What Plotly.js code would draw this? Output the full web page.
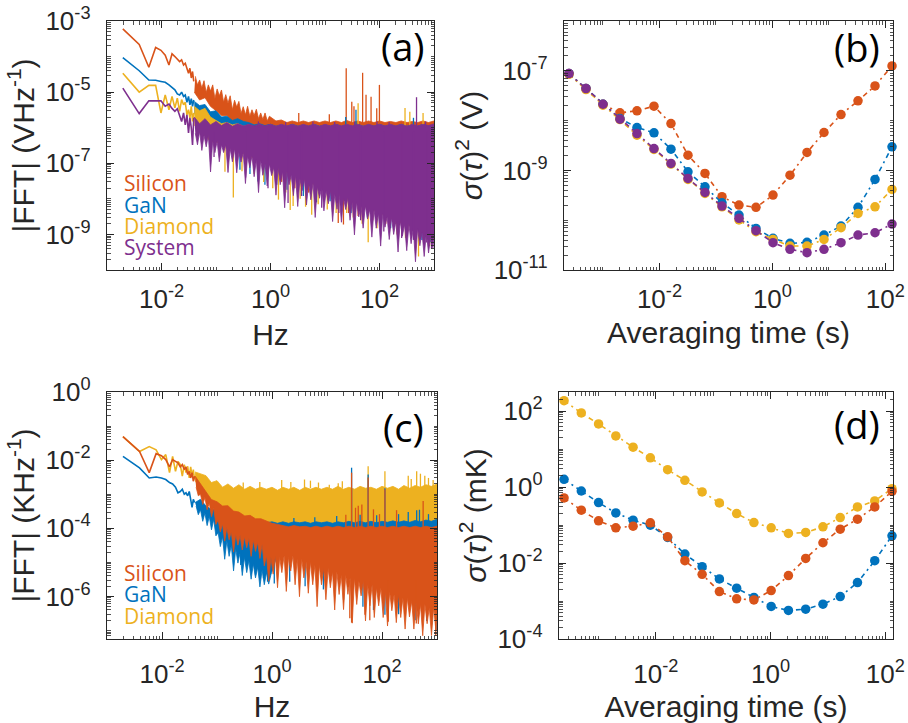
<!DOCTYPE html>
<html><head><meta charset="utf-8">
<script src="https://cdn.plot.ly/plotly-3.0.1.min.js"></script>
<style>html,body{margin:0;padding:0;background:#fff}#chart{width:908px;height:723px}</style>
</head><body><div id="chart"></div>
<script>
// ---------- frequency grids (Hz) ----------
const lowF = [0.00195,0.0039,0.00586,0.00781,0.00977,0.0117,0.0137,0.0156,0.0176,0.0195,0.0215,0.0234,0.0254,0.0273,0.0293,0.0313,0.0332,0.0352,0.0371,0.0391];
const bandF = [0.04,0.05,0.063,0.079,0.1,0.126,0.158,0.2,0.25,0.32,0.4,0.5,0.63,0.79,1,1.26,1.58,2,2.5,3.2,4,5,6.3,7.9,10,12.6,15.8,20,25,32,40,50,63,79,100,126,158,200,250,320,400,500,630,790,1000];
const fineF = [0.0417,0.0457,0.0501,0.0550,0.0603,0.0661,0.0724,0.0794,0.0871,0.0955,
  0.105,0.115,0.126,0.138,0.151,0.166,0.182,0.200,0.219,0.240,
  0.263,0.288,0.316,0.347,0.380,0.417,0.457,0.501,0.550,0.603,
  0.661,0.724,0.794,0.871,0.955,1.05,1.15,1.26,1.38,1.51,
  1.66,1.82,2.00,2.19,2.40,2.63,2.88,3.16,3.47,3.80,
  4.17,4.57,5.01,5.50,6.03,6.61,7.24,7.94,8.71,9.55,
  10.5,11.5,12.6,13.8,15.1,16.6,18.2,20.0,21.9,24.0,
  26.3,28.8,31.6,34.7,38.0,41.7,45.7,50.1,55.0,60.3,
  66.1,72.4,79.4,87.1,95.5,105,115,126,138,151,
  166,182,200,219,240,263,288,316,347,380,
  417,457,501,550,603,661,724,794,871,955,1000];

// ---------- panel (a): |FFT| (V/Hz) ----------
const siA_line = [6.0e-4,2.2e-4,5.0e-5,1.8e-4,1.5e-4,1.1e-4,5.8e-5,1.2e-4,1.0e-4,8.6e-5,7.2e-5,8.1e-5,5.8e-5,6.5e-5,4.5e-5,3.4e-5,4.7e-5,2.5e-5,3.8e-5,2.0e-5];
const gaA_line = [9.3e-5,4.0e-5,2.2e-5,2.15e-5,2.0e-5,1.9e-5,1.6e-5,1.35e-5,1.16e-5,8.9e-6,8.3e-6,1.0e-5,7.6e-6,8.3e-6,5.2e-6,7.6e-6,4.4e-6,6.6e-6,4.0e-6,6.0e-6];
const diA_line = [3.4e-5,1.0e-5,1.55e-5,1.55e-5,2.6e-6,8.4e-6,3.2e-6,7.6e-6,3.6e-6,6.8e-6,2.9e-6,6.2e-6,4.4e-6,5.2e-6,2.3e-6,3.2e-6,1.9e-6,4.0e-6,1.5e-6,2.6e-6];
const syA_line = [1.3e-5,2.5e-6,5.7e-6,5.8e-6,5.7e-6,4.0e-6,4.6e-6,3.5e-6,2.9e-6,3.4e-6,2.3e-6,1.5e-6,2.6e-6,1.2e-6,2.3e-6,7.1e-7,1.9e-6,1.0e-6,3.3e-7,1.9e-6];

const siA_hiFine = [2.8e-5,1.6e-5,2.2e-5,1.3e-5,2.1e-5,9.8e-6,1.6e-5,1.07e-5,1.6e-5,6.6e-6,
  1.23e-5,7.9e-6,1.15e-5,5.2e-6,8.5e-6,4.9e-6,7.9e-6,3.2e-6,5.9e-6,3.8e-6,
  5.5e-6,2.5e-6,3.9e-6,2.3e-6,4.0e-6,2.1e-6,3.2e-6,2.2e-6,3.3e-6,1.8e-6,
  2.6e-6,1.7e-6,2.6e-6,1.55e-6,2.1e-6];
const siA_hiTail = [1.55e-6,1.65e-6,1.4e-6,1.55e-6,1.4e-6,1.55e-6,1.4e-6,1.55e-6,1.4e-6,1.55e-6,
  1.4e-6,1.55e-6,1.4e-6,1.6e-6,1.4e-6,1.55e-6,1.4e-6,1.55e-6,1.4e-6,1.55e-6,
  1.4e-6,1.5e-6,1.4e-6,1.55e-6,1.4e-6,1.5e-6,1.4e-6,1.55e-6,1.4e-6,1.55e-6];
const siA_lo = [1e-5,6e-6,7e-6,4e-6,3e-6,2.2e-6,2.2e-6,1.5e-6,1.5e-6,2.1e-7,1.8e-7,1.5e-7,1.3e-7,1.13e-7,9.5e-8,8.3e-8,7.1e-8,6.1e-8,5.2e-8,4.5e-8,3.8e-8,3.2e-8,2.8e-8,2.4e-8,2.1e-8,1.7e-8,1.5e-8,1.27e-8,1.1e-8,9.5e-9,8.2e-9,6.9e-9,6e-9,5.2e-9,4.4e-9,3.8e-9,3.2e-9,2.8e-9,2.3e-9,2.1e-9,1.7e-9,1.5e-9,1.27e-9,1.1e-9,9.2e-10];
const gaA_hi = [5.5e-6,4.2e-6,4.5e-6,2.8e-6,3.0e-6,2.0e-6,2.1e-6,1.6e-6,1.8e-6,1.5e-6,1.4e-6,1.2e-6,1.3e-6,1.15e-6,1.25e-6,1.1e-6,1.2e-6,1.1e-6,1.25e-6,1.1e-6,1.2e-6,1.1e-6,1.25e-6,1.1e-6,1.2e-6,1.1e-6,1.25e-6,1.1e-6,1.2e-6,1.1e-6,1.25e-6,1.1e-6,1.2e-6,1.1e-6,1.25e-6,1.1e-6,1.2e-6,1.1e-6,1.25e-6,1.1e-6,1.2e-6,1.1e-6,1.25e-6,1.1e-6,1.2e-6];
const gaA_lo = [2.5e-6,1.8e-6,1.5e-6,1e-6,8e-7,3.7e-7,3.2e-7,2.75e-7,2.3e-7,2.0e-7,1.7e-7,1.43e-7,1.27e-7,1.08e-7,9.1e-8,7.9e-8,6.8e-8,5.8e-8,5.0e-8,4.3e-8,3.6e-8,3.1e-8,2.6e-8,2.3e-8,2.0e-8,1.65e-8,1.43e-8,1.2e-8,1.05e-8,9.1e-9,7.8e-9,6.6e-9,5.7e-9,5.0e-9,4.2e-9,3.6e-9,3.1e-9,2.6e-9,2.2e-9,2.0e-9,1.65e-9,1.43e-9,1.2e-9,1.05e-9,8.8e-10];
const diA_hi = [4e-6,3e-6,3.5e-6,2e-6,1.6e-6,1.3e-6,1.4e-6,1.2e-6,1.3e-6,1.1e-6,1.2e-6,1.05e-6,1.2e-6,1.05e-6,1.2e-6,1.05e-6,1.2e-6,1.05e-6,1.2e-6,1.05e-6,1.2e-6,1.05e-6,1.2e-6,1.05e-6,1.2e-6,1.05e-6,1.2e-6,1.05e-6,1.2e-6,1.05e-6,1.2e-6,1.05e-6,1.2e-6,1.05e-6,1.2e-6,1.05e-6,1.2e-6,1.05e-6,1.2e-6,1.05e-6,1.2e-6,1.05e-6,1.2e-6,1.05e-6,1.2e-6];
const diA_lo = [1.2e-6,8e-7,6e-7,4e-7,3.9e-7,3.6e-7,3.0e-7,2.6e-7,2.2e-7,1.9e-7,1.6e-7,1.37e-7,1.2e-7,1.03e-7,8.7e-8,7.6e-8,6.5e-8,5.6e-8,4.7e-8,4.1e-8,3.5e-8,2.9e-8,2.5e-8,2.2e-8,1.9e-8,1.6e-8,1.37e-8,1.15e-8,1.0e-8,8.7e-9,7.5e-9,6.3e-9,5.5e-9,4.7e-9,4.0e-9,3.5e-9,2.9e-9,2.5e-9,2.1e-9,1.9e-9,1.6e-9,1.37e-9,1.15e-9,1.0e-9,8.4e-10];
const syA_hi = [2.0e-6,1.3e-6,1.8e-6,1.2e-6,1.5e-6,1.15e-6,1.4e-6,1.1e-6,1.3e-6,1.12e-6,1.25e-6,1.12e-6,1.25e-6,1.12e-6,1.25e-6,1.1e-6,1.25e-6,1.12e-6,1.25e-6,1.1e-6,1.25e-6,1.12e-6,1.25e-6,1.1e-6,1.25e-6,1.12e-6,1.25e-6,1.12e-6,1.25e-6,1.12e-6,1.25e-6,1.1e-6,1.25e-6,1.12e-6,1.25e-6,1.12e-6,1.25e-6,1.12e-6,1.25e-6,1.1e-6,1.25e-6,1.12e-6,1.25e-6,1.15e-6,1.28e-6];
const syA_loFine = [7.0e-7,3.3e-7,7.8e-7,2.3e-7,6.1e-7,2.9e-7,6.1e-7,5.7e-8,4.3e-7,2.0e-7,
  4.2e-7,1.1e-7,3.3e-7,2.0e-7,3.3e-7,5.5e-8,2.6e-7,1.1e-7,2.6e-7,5.4e-8,
  2.0e-7,1.08e-7,2.0e-7,2.7e-8,1.6e-7,7.5e-8,1.6e-7,4.2e-8,1.25e-7,1.5e-8,
  1.24e-7,4.6e-8,9.7e-8,2.3e-8,9.6e-8,4.5e-8,7.6e-8,1.27e-8,7.5e-8,2.5e-8,
  5.9e-8,5.6e-9,5.9e-8,2.5e-8,4.6e-8,1.23e-8,4.6e-8,6.1e-9,3.6e-8,1.7e-8,
  3.6e-8,6.7e-9,2.8e-8,9.4e-9,2.8e-8,3.0e-9,2.2e-8,1.04e-8,2.2e-8,4.6e-9,
  1.7e-8,7.3e-9,1.7e-8,2.3e-9,1.35e-8,5.1e-9,1.34e-8,2.2e-9,1.05e-8,5.0e-9,
  1.05e-8,2.5e-9,8.2e-9,9.7e-10,8.2e-9,3.1e-9,6.4e-9,1.5e-9,6.4e-9,2.7e-9,
  5.0e-9,8.4e-10,5.0e-9,1.5e-9,3.9e-9,4.7e-10,3.9e-9,1.6e-9,3.1e-9,7.2e-10,
  3.0e-9,1.0e-9,2.4e-9,3.2e-10,2.4e-9,8.9e-10,1.9e-9,3.5e-10,1.9e-9,5.5e-10,
  1.5e-9,1.7e-10,1.45e-9,4.8e-10,1.14e-9,2.4e-10,1.14e-9,3.0e-10,8.9e-10,4.2e-10,8.1e-10];

const siA_upF = [3.3,12,24.5,31,34,49,56.6,70,89,99.6];
const siA_upV = [2.6e-6,2.4e-6,4.7e-5,5.4e-6,4e-6,3.5e-5,8.5e-6,7.4e-6,3.5e-6,1.6e-5];
const siA_dnF = [1.6,2.8,5,9.3,14,17.5,21.8,27,40.5,75,130,200,330,550,770];
const siA_dnV = [3e-8,2e-8,1.5e-8,2.8e-8,5e-9,2.1e-9,1.9e-9,4e-9,3.3e-9,2.5e-9,2e-9,2e-9,1.2e-9,1.1e-9,7.2e-10];
const gaA_upF = [24,37,420];
const gaA_upV = [2e-6,3.2e-6,1.9e-6];
const gaA_dnF = [0.275,0.42,0.59,0.79,1.3,2.0,4,7,12.4,30,60,160,447,600,850];
const gaA_dnV = [6.6e-8,5e-8,3.1e-8,2.5e-8,2.5e-8,1.8e-8,1.2e-8,8e-9,8.6e-9,4e-9,3e-9,1.5e-9,1.1e-9,7e-10,6e-10];
const diA_upF = [40.5,294,360,630];
const diA_upV = [4.9e-6,3.6e-6,2.8e-6,2.6e-6];
const diA_dnF = [0.146,0.208,0.3,0.5,0.75,1.1,1.4,1.9,2.3,2.6,3.5,4.4,5.7,7.5,11,16,25,33,48,62,90,156,210,300,380,520,660,830];
const diA_dnV = [5.8e-8,1.1e-8,6e-8,5e-8,3e-8,2e-8,9.5e-9,1.5e-8,4.9e-9,6.3e-9,1e-8,6e-9,3.6e-9,7e-9,5e-9,4e-9,4e-9,3e-9,2e-9,6e-10,1.5e-9,2.1e-9,1e-9,8e-10,1.2e-9,2.4e-10,6e-10,4.7e-10];
const syA_upF = [0.6,1.9,6,15,35,90,150,478,700];
const syA_upV = [1.5e-6,1.45e-6,1.5e-6,1.45e-6,1.5e-6,1.5e-6,1.45e-6,7.2e-6,1.5e-6];
const syA_dnF = [0.092,0.35,0.9,2.1,3.7,8.7,18,45,120,255,420,735,900];
const syA_dnV = [1.5e-7,4e-8,2e-8,7.7e-9,1.2e-8,5.6e-9,4e-9,2.5e-9,1.2e-9,8e-10,7e-10,5.9e-10,4e-10];

// ---------- panel (c): |FFT| (K/Hz) ----------
const siC_line = [0.049,0.018,0.0043,0.0155,0.0135,0.0104,0.0063,0.0103,0.0092,0.0083,0.0063,0.0074,0.0053,0.0063,0.0038,0.0047,0.003,0.0043,0.0024,0.0034];
const gaC_line = [0.0129,0.0059,0.003,0.0032,0.003,0.0027,0.0022,0.002,0.0016,0.0011,0.0012,0.0014,0.001,0.0011,9e-4,0.0012,7.1e-4,4.1e-4,7.1e-4,5.7e-4];
const diC_line = [0.049,0.018,0.025,0.020,0.0104,0.0145,0.0043,0.0129,0.0047,0.0092,0.0074,0.0034,0.0074,0.0043,0.0066,0.003,0.0063,0.0034,0.0053,0.0027];

const diC_hi = [0.0045,0.004,0.0035,0.0022,0.0025,0.0016,0.002,0.0015,0.0019,0.0014,0.0017,0.0014,0.0016,0.0014,0.0016,0.0013,0.0016,0.0014,0.0016,0.0013,0.0016,0.0014,0.0016,0.0014,0.0016,0.0014,0.0017,0.0014,0.0016,0.0014,0.0017,0.0015,0.0016,0.0014,0.0017,0.0015,0.0017,0.0014,0.0018,0.0015,0.0018,0.0016,0.0019,0.0017,0.002];
const diC_lo = [0.0025,0.0015,8e-4,5e-4,4e-4,3e-4,2.5e-4,2e-4,2e-4,1.8e-4,1.5e-4,1e-4,9e-5,1e-4,9e-5,1e-4,9e-5,1e-4,9e-5,1e-4,9e-5,1e-4,9e-5,1e-4,9e-5,1e-4,9e-5,1e-4,9e-5,1e-4,9e-5,1e-4,9e-5,1e-4,9e-5,1e-4,9e-5,1e-4,9e-5,1e-4,9e-5,1e-4,9e-5,1e-4,9e-5];
const gaC_hi = [5.7e-4,7.1e-4,4.5e-4,3.6e-4,3.6e-4,2.6e-4,2.3e-4,2.3e-4,2.0e-4,1.9e-4,1.7e-4,1.5e-4,1.6e-4,1.45e-4,1.55e-4,1.4e-4,1.55e-4,1.4e-4,1.55e-4,1.45e-4,1.55e-4,1.4e-4,1.55e-4,1.45e-4,1.55e-4,1.4e-4,1.55e-4,1.45e-4,1.6e-4,1.45e-4,1.6e-4,1.45e-4,1.6e-4,1.45e-4,1.6e-4,1.5e-4,1.65e-4,1.5e-4,1.65e-4,1.5e-4,1.7e-4,1.55e-4,1.75e-4,1.6e-4,1.85e-4];
const gaC_loFine = [4.5e-4,2.5e-4,3.5e-4,1.6e-4,2.8e-4,1.2e-4,2.2e-4,9e-5,1.8e-4,6e-5,
  7.4e-5,2.9e-5,5.6e-5,1.23e-5,4.3e-5,1.5e-5,3.2e-5,5.6e-6,2.5e-5,9.5e-6,
  1.9e-5,4.1e-6,1.4e-5,5.0e-6,1.12e-5,3.2e-6,8.9e-6,3.5e-6,7.2e-6,1.9e-6,
  6.0e-6,2.2e-6,5.0e-6,2.3e-6,4.3e-6];
const gaC_loTail = [1.7e-5,1.7e-5,1.7e-5,1.7e-5,1.48e-5,1.29e-5,1.12e-5,9.8e-6,8.5e-6,7.4e-6,
  6.5e-6,5.6e-6,4.9e-6,4.3e-6,3.7e-6,3.2e-6,2.8e-6,2.45e-6,2.1e-6,1.86e-6,
  1.6e-6,1.4e-6,1.2e-6,1.07e-6,9.3e-7,8.1e-7,7e-7,6.1e-7,5.3e-7,4.6e-7];
const siC_hi = [0.0034,0.002,0.0012,7e-4,6e-4,4.5e-4,4.6e-4,3.2e-4,3e-4,2.3e-4,2.4e-4,1.9e-4,1.9e-4,1.6e-4,1.4e-4,1.3e-4,1.2e-4,1.1e-4,1.2e-4,1.1e-4,1.15e-4,1.05e-4,1.15e-4,1.05e-4,1.15e-4,1.05e-4,1.15e-4,1.05e-4,1.15e-4,1.05e-4,1.15e-4,1.05e-4,1.15e-4,1.05e-4,1.15e-4,1.05e-4,1.15e-4,1.05e-4,1.15e-4,1.05e-4,1.15e-4,1.05e-4,1.15e-4,1.05e-4,1.15e-4];
const siC_loFine = [1.6e-3,9e-4,1.0e-3,5e-4,8e-4,3.5e-4,5.5e-4,2.2e-4,4e-4,1.3e-4,
  1.74e-4,7.8e-5,1.35e-4,4.2e-5,1.05e-4,4.6e-5,7.9e-5,2.0e-5,6.8e-5,3.2e-5,
  6.2e-5,2.3e-5,5.6e-5,2.7e-5,5.1e-5,1.5e-5,4.5e-5,2.1e-5,3.9e-5,1.3e-5,
  3.4e-5,7.9e-6,1.6e-5,2.8e-6,1.4e-5,4.5e-6,1.6e-5,1.8e-6,1.4e-5,5.0e-6,
  1.6e-5,1.4e-6,1.4e-5,5.6e-6,1.6e-5,2.2e-6,1.3e-5,9.8e-7,1.3e-5,3.5e-6,
  1.04e-5,1.24e-6,1.05e-5,2.2e-6,8.4e-6,5.0e-7,8.4e-6,2.2e-6,6.7e-6,8.0e-7,
  6.7e-6,1.8e-6,5.4e-6,4.0e-7,5.4e-6,1.14e-6,4.3e-6,4.1e-7,4.3e-6,1.15e-6,
  3.5e-6,1.64e-7,3.5e-6,5.8e-7,2.8e-6,1.04e-6,2.8e-6,1.9e-7,2.2e-6,5.3e-7,
  2.2e-6,2.4e-7,1.8e-6,5.3e-7,1.8e-6,2.4e-7,1.4e-6,1.35e-7,1.4e-6,3.8e-7,
  1.14e-6,1.7e-7,1.15e-6,2.4e-7,9.2e-7,1.1e-7,9.2e-7,2.5e-7,7.3e-7,1.1e-7,
  7.4e-7,1.56e-7,5.9e-7,7.0e-8,5.9e-7,1.58e-7,4.7e-7,7.1e-8,4.7e-7,1.0e-7,3.9e-7];

const diC_upF = [0.3,0.6,1.5,2.2,3.9,5,7,11,16,19,56,113,300,340,427,500,600,700,850];
const diC_upV = [2.2e-3,2.3e-3,2.6e-3,2.3e-3,2.7e-3,2.5e-3,2.2e-3,1.9e-3,2.1e-3,2.4e-3,6.6e-3,4.7e-3,3.5e-3,2.8e-3,4.7e-3,4e-3,3.5e-3,3e-3,2.6e-3];
const diC_dnF = [0.23];
const diC_dnV = [2e-5];
const gaC_upF = [2.5,6,15,28,40,56,80,113,200,300,427,480,700];
const gaC_upV = [2e-4,2.1e-4,2.3e-4,6e-3,2.5e-4,3.8e-3,2.4e-4,1.5e-3,2.6e-4,3e-4,3.4e-4,3.5e-4,2.6e-4];
const gaC_dnF = [0.25,0.27,0.5,0.7,0.83,1.1,2.1,4,8.6,20,45,70,113,200,400,650,800,1000];
const gaC_dnV = [1.8e-5,8.4e-6,4.2e-6,3.4e-6,2.7e-6,2.4e-6,2.7e-6,2e-6,1.6e-6,8e-7,5e-7,4e-7,2.9e-7,3e-7,2e-7,1.9e-7,1.5e-7,1e-7];
const siC_upF = [22,28,33,37,43,56,70,90,113,184,560];
const siC_upV = [2.5e-4,4.3e-3,4e-4,4.6e-4,5e-4,3.1e-3,3.6e-4,2.6e-4,1.4e-3,3.4e-4,6.3e-4];
const siC_dnF = [26,28,49,60,130,420,950];
const siC_dnV = [2.3e-7,1.7e-7,2.9e-7,2e-7,1.8e-7,1.6e-7,7e-8];

// ---------- panels (b) and (d): Allan variance ----------
const tau = [0.00025,0.0005,0.001,0.002,0.004,0.008,0.016,0.032,0.064,0.128,0.256,0.512,1.024,2.048,4.096,8.192,16.384,32.768,65.536,131.072];
const siB = [8.8e-8,4.4e-8,2.13e-8,1.43e-8,1.57e-8,1.95e-8,8.7e-9,2.02e-9,8.7e-10,2.96e-10,2.01e-10,1.81e-10,3.19e-10,8.0e-10,2.29e-9,5.77e-9,1.32e-8,2.49e-8,4.98e-8,1.25e-7];
const gaB = [8.8e-8,4.4e-8,2.13e-8,1.1e-8,7.26e-9,5.68e-9,2.67e-9,9.37e-10,4.69e-10,2.24e-10,1.27e-10,6.85e-11,4.32e-11,3.43e-11,3.59e-11,5.04e-11,7.62e-11,1.81e-10,6.58e-10,2.97e-9];
const diB = [8.5e-8,4.2e-8,2.04e-8,1.05e-8,5.1e-9,2.63e-9,1.34e-9,6.58e-10,3.44e-10,1.86e-10,1.01e-10,5.87e-11,4.12e-11,3.03e-11,3.03e-11,4.12e-11,7.06e-11,1.37e-10,1.86e-10,4.15e-10];
const syB = [8.8e-8,4.4e-8,2.13e-8,1.07e-8,5.5e-9,2.75e-9,1.38e-9,6.89e-10,3.6e-10,1.92e-10,1.09e-10,6.15e-11,3.53e-11,2.6e-11,2.23e-11,2.6e-11,3.53e-11,5.04e-11,5.6e-11,8.36e-11];
const diD = [186.6,88.7,45.6,22.1,11.2,5.87,2.85,1.50,0.740,0.381,0.200,0.116,0.0843,0.0599,0.0636,0.0895,0.157,0.299,0.430,0.904];
const gaD = [1.59,0.785,0.389,0.208,0.134,0.099,0.047,0.0172,0.00802,0.00381,0.00217,0.00124,0.000718,0.000564,0.000611,0.000826,0.00131,0.00305,0.0115,0.0520];
const siD = [0.515,0.245,0.129,0.0843,0.0932,0.114,0.049,0.0115,0.00505,0.00177,0.00114,0.00107,0.00188,0.00466,0.0132,0.0341,0.0778,0.142,0.299,0.769];

// ---------- labels ----------
const seriesA = ['Silicon','GaN','Diamond','System'];
const seriesC = ['Silicon','GaN','Diamond'];
const panelTags = ['(a)','(b)','(c)','(d)'];
const tickA_Y = [1e-9,1e-7,1e-5,1e-3];
const tickA_Yt = ['10<sup>-9</sup>','10<sup>-7</sup>','10<sup>-5</sup>','10<sup>-3</sup>'];
const tickX = [1e-2,1,100];
const tickXt = ['10<sup>-2</sup>','10<sup>0</sup>','10<sup>2</sup>'];
const tickB_Y = [1e-11,1e-9,1e-7];
const tickB_Yt = ['10<sup>-11</sup>','10<sup>-9</sup>','10<sup>-7</sup>'];
const tickC_Y = [1e-6,1e-4,1e-2,1];
const tickC_Yt = ['10<sup>-6</sup>','10<sup>-4</sup>','10<sup>-2</sup>','10<sup>0</sup>'];
const tickD_Y = [1e-4,1e-2,1,100];
const tickD_Yt = ['10<sup>-4</sup>','10<sup>-2</sup>','10<sup>0</sup>','10<sup>2</sup>'];

// ---------- styling / builders ----------
const COL = {si:'#D95319', ga:'#0072BD', di:'#EDB120', sy:'#7E2F8E'};
const INK = '#262626';
const FONT = 'Liberation Sans, Arial, Helvetica, sans-serif';
const LFONT = 'Open Sans, Noto Sans, sans-serif';

function band(hiF, hi, loF, lo, color, xa, ya) {
  return {x: hiF.concat(loF.slice().reverse()), y: hi.concat(lo.slice().reverse()),
    type:'scatter', mode:'lines', fill:'toself', fillcolor:color,
    line:{color:color, width:0.8}, xaxis:xa, yaxis:ya, hoverinfo:'skip'};
}
function line(f, v, color, xa, ya) {
  return {x:f, y:v, type:'scatter', mode:'lines', line:{color:color, width:1.6}, xaxis:xa, yaxis:ya, hoverinfo:'skip'};
}
function spikes(f, v, base, color, xa, ya) {
  const x = [], y = [];
  f.forEach((fi, i) => { x.push(fi, fi, null); y.push(base, v[i], null); });
  return {x:x, y:y, type:'scatter', mode:'lines', line:{color:color, width:1.3}, xaxis:xa, yaxis:ya, hoverinfo:'skip'};
}
function fft(lineV, bandT, upF, upV, dnF, dnV, upBase, dnBase, color, xa, ya) {
  return [bandT, line(lowF, lineV, color, xa, ya),
          spikes(upF, upV, upBase, color, xa, ya), spikes(dnF, dnV, dnBase, color, xa, ya)];
}
function allan(t, v, color, xa, ya) {
  return {x:t, y:v, type:'scatter', mode:'lines+markers', xaxis:xa, yaxis:ya, hoverinfo:'skip',
    line:{color:color, width:1.6, dash:'5px,4px,2px,4px'}, marker:{color:color, size:9.5}, cliponaxis:false};
}
const fineHead = fineF.slice(0, 35), bandTail = bandF.slice(15);

const traces = [].concat(
  fft(siA_line, band(fineHead.concat(bandTail), siA_hiFine.concat(siA_hiTail), bandF, siA_lo, COL.si, 'x', 'y'),
      siA_upF, siA_upV, siA_dnF, siA_dnV, 1e-6, 8e-7, COL.si, 'x', 'y'),
  fft(gaA_line, band(bandF, gaA_hi, bandF, gaA_lo, COL.ga, 'x', 'y'),
      gaA_upF, gaA_upV, gaA_dnF, gaA_dnV, 1e-6, 8e-7, COL.ga, 'x', 'y'),
  fft(diA_line, band(bandF, diA_hi, bandF, diA_lo, COL.di, 'x', 'y'),
      diA_upF, diA_upV, diA_dnF, diA_dnV, 1e-6, 8e-7, COL.di, 'x', 'y'),
  fft(syA_line, band(bandF, syA_hi, fineF, syA_loFine, COL.sy, 'x', 'y'),
      syA_upF, syA_upV, syA_dnF, syA_dnV, 1e-6, 8e-7, COL.sy, 'x', 'y'),
  [allan(tau, siB, COL.si, 'x2', 'y2'), allan(tau, gaB, COL.ga, 'x2', 'y2'),
   allan(tau, diB, COL.di, 'x2', 'y2'), allan(tau, syB, COL.sy, 'x2', 'y2')],
  fft(diC_line, band(bandF, diC_hi, bandF, diC_lo, COL.di, 'x3', 'y3'),
      diC_upF, diC_upV, diC_dnF, diC_dnV, 1.5e-3, 1.2e-4, COL.di, 'x3', 'y3'),
  fft(gaC_line, band(bandF, gaC_hi, fineHead.concat(bandTail), gaC_loFine.concat(gaC_loTail), COL.ga, 'x3', 'y3'),
      gaC_upF, gaC_upV, gaC_dnF, gaC_dnV, 1.2e-4, 3e-5, COL.ga, 'x3', 'y3'),
  fft(siC_line, band(bandF, siC_hi, fineF, siC_loFine, COL.si, 'x3', 'y3'),
      siC_upF, siC_upV, siC_dnF, siC_dnV, 1e-4, 3e-6, COL.si, 'x3', 'y3'),
  [allan(tau, diD, COL.di, 'x4', 'y4'), allan(tau, gaD, COL.ga, 'x4', 'y4'), allan(tau, siD, COL.si, 'x4', 'y4')]
);

function minorVals(r, majors) {
  const out = [];
  for (let d = Math.floor(r[0]); d <= Math.ceil(r[1]); d++) {
    for (let m = 1; m <= 9; m++) {
      const v = m * Math.pow(10, d), lv = Math.log10(v);
      if (lv < r[0] || lv > r[1]) continue;
      if (m === 1 && majors.some(t => Math.abs(Math.log10(t) - d) < 1e-6)) continue;
      out.push(v);
    }
  }
  return out;
}
const W = 908, H = 723;
function ax(range, domain, anchor, tv, tt, title, standoff, lblOff) {
  return {type:'log', range:range, domain:domain, anchor:anchor,
    showline:true, linecolor:INK, linewidth:1.3, mirror:'allticks',
    ticks:'inside', ticklen:7, tickwidth:1, tickcolor:INK,
    tickmode:'array', tickvals:tv, ticktext:tt,
    minor:{ticks:'inside', ticklen:3.5, tickwidth:0.8, tickcolor:INK, tickmode:'array', tickvals:minorVals(range, tv), showgrid:false},
    showgrid:false, zeroline:false, automargin:false, fixedrange:true,
    ticklabelstandoff:lblOff,
    tickfont:{family:FONT, size:26, color:INK},
    title:{text:title, standoff:standoff, font:{family:FONT, size:30, color:INK}}};
}
const yA = [1 - 270/H, 1 - 21/H], yC = [1 - 639/H, 1 - 392/H];
const layout = {
  width:W, height:H, margin:{l:0, r:0, t:0, b:0},
  paper_bgcolor:'#fff', plot_bgcolor:'#fff', showlegend:false, hovermode:false,
  xaxis:  ax([-3, 3], [107/W, 434/W], 'y', tickX, tickXt, 'Hz', 11, 5),
  yaxis:  ax([-10, -3], yA, 'x', tickA_Y, tickA_Yt, '|FFT| (VHz<sup>-1</sup>)', 2, 10),
  xaxis2: ax([-3.69, 2.135], [564/W, 893/W], 'y2', tickX, tickXt, 'Averaging time (s)', 9, 5),
  yaxis2: ax([-11, -6], yA, 'x2', tickB_Y, tickB_Yt, '<i>σ</i>(<i>τ</i>)<sup>2</sup> (V)', 2, 10),
  xaxis3: ax([-3, 3], [107/W, 437/W], 'y3', tickX, tickXt, 'Hz', 10, 11),
  yaxis3: ax([-7.25, 0], yC, 'x3', tickC_Y, tickC_Yt, '|FFT| (KHz<sup>-1</sup>)', 2, 10),
  xaxis4: ax([-3.69, 2.135], [559/W, 893/W], 'y4', tickX, tickXt, 'Averaging time (s)', 10, 11),
  yaxis4: ax([-4, 2.5], yC, 'x4', tickD_Y, tickD_Yt, '<i>σ</i>(<i>τ</i>)<sup>2</sup> (mK)', 2, 10),
  annotations: []
};
const tagPos = [[403, 46], [857, 47], [403, 427], [857, 424]];
panelTags.forEach((t, i) => layout.annotations.push({text:t, xref:'paper', yref:'paper',
  x:tagPos[i][0]/W, y:1 - tagPos[i][1]/H, xanchor:'center', yanchor:'middle', showarrow:false,
  font:{family:LFONT, size:38, color:'#000'}}));
const colA = [COL.si, COL.ga, COL.di, COL.sy];
const legA = [183, 205, 226, 247];
seriesA.forEach((s, i) => layout.annotations.push({text:s, xref:'paper', yref:'paper',
  x:122/W, y:1 - legA[i]/H, xanchor:'left', yanchor:'middle', showarrow:false,
  font:{family:LFONT, size:21, color:colA[i]}}));
const legC = [573, 594, 616];
seriesC.forEach((s, i) => layout.annotations.push({text:s, xref:'paper', yref:'paper',
  x:122/W, y:1 - legC[i]/H, xanchor:'left', yanchor:'middle', showarrow:false,
  font:{family:LFONT, size:21, color:colA[i]}}));

Plotly.newPlot('chart', traces, layout, {staticPlot:true, displayModeBar:false});
</script>
</body></html>
